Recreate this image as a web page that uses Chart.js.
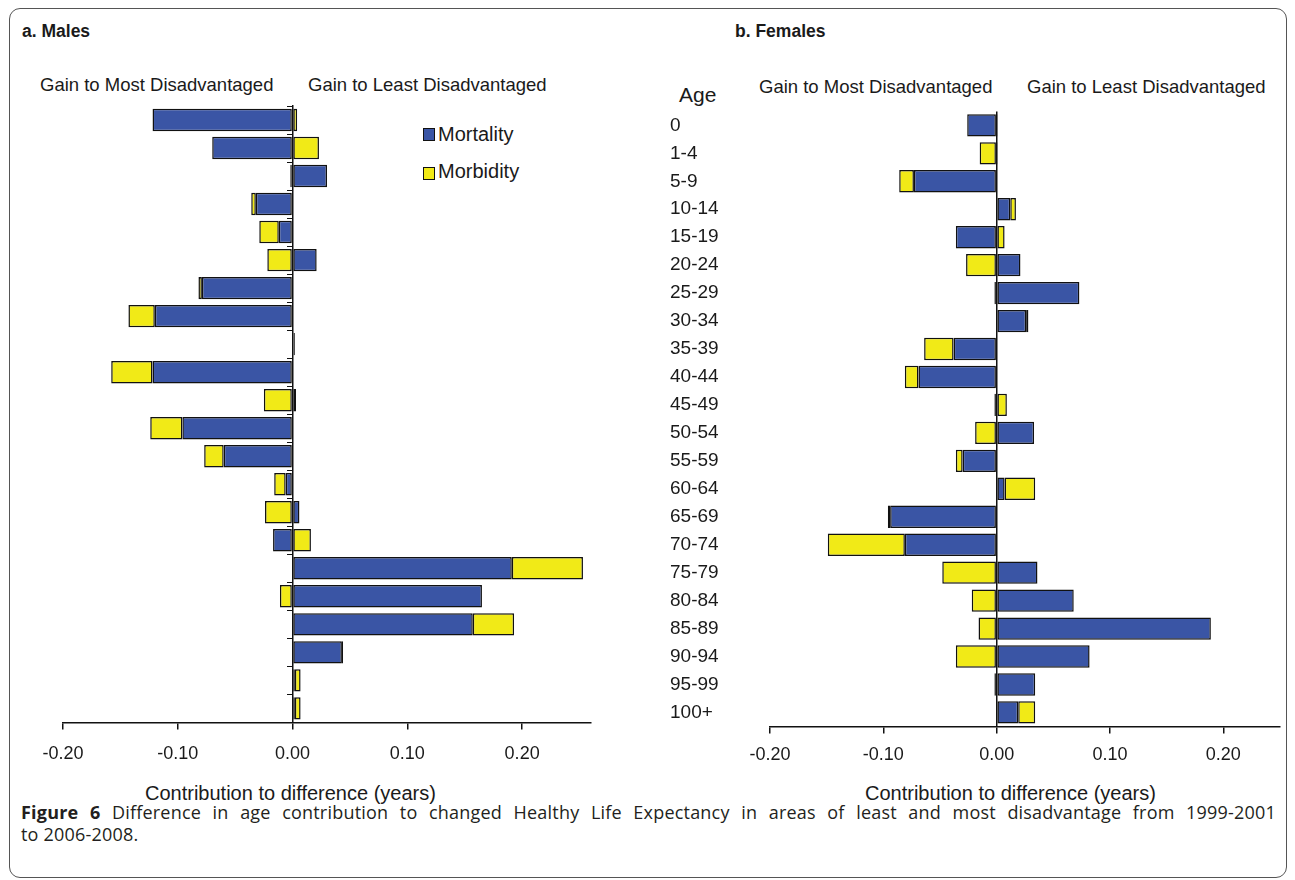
<!DOCTYPE html>
<html>
<head>
<meta charset="utf-8">
<script src="https://cdn.jsdelivr.net/npm/chart.js@4.4.0/dist/chart.umd.min.js"></script>
<style>
  body { margin: 0; background: #fff; font-family: "Liberation Sans", Arial, sans-serif; color: #1a1a1a; }
  #frame { position: absolute; left: 9px; top: 8px; width: 1278px; height: 870px; border: 1.5px solid #555; border-radius: 11px; box-sizing: border-box; }
  .t { position: absolute; white-space: nowrap; font-size: 18.5px; line-height: 22px; }
  .panel { font-weight: bold; font-size: 17.5px; }
  .key { position: absolute; width: 10px; height: 11px; border: 1.5px solid #111; }
  canvas { position: absolute; }
  #caption { position: absolute; left: 21px; top: 801px; width: 1255px; font-family: "Open Sans", sans-serif; font-size: 18px; line-height: 22px; font-weight: 400; letter-spacing: 0.2px; color: #231f20; }
  #caption b { font-weight: 700; }
  #caption div { text-align: justify; text-align-last: justify; }
  #caption div.last { text-align-last: left; }
</style>
</head>
<body>
<div id="frame"></div>

<div class="t panel" style="left:22px;top:20px;">a. Males</div>
<div class="t panel" style="left:735px;top:20px;">b. Females</div>

<div class="t" style="left:40px;top:74px;">Gain to Most Disadvantaged</div>
<div class="t" style="left:308px;top:74px;">Gain to Least Disadvantaged</div>
<div class="t" style="left:759px;top:76px;">Gain to Most Disadvantaged</div>
<div class="t" style="left:1027px;top:76px;">Gain to Least Disadvantaged</div>
<div class="t" style="left:679px;top:83px;font-size:21px;line-height:24px;">Age</div>

<div class="key" style="left:423px;top:128px;background:#3a55a5;"></div>
<div class="t" style="left:438px;top:123px;font-size:20px;">Mortality</div>
<div class="key" style="left:423px;top:167px;background:#f1ea17;"></div>
<div class="t" style="left:438px;top:160px;font-size:20px;">Morbidity</div>

<div class="t" style="left:145px;top:782px;font-size:20px;">Contribution to difference (years)</div>
<div class="t" style="left:865px;top:782px;font-size:20px;">Contribution to difference (years)</div>

<canvas id="males" width="590" height="684" style="left:20px;top:95px;"></canvas>
<canvas id="females" width="615" height="677" style="left:670px;top:100px;"></canvas>

<div id="caption">
  <div><b>Figure 6</b> Difference in age contribution to changed Healthy Life Expectancy in areas of least and most disadvantage from 1999-2001</div>
  <div class="last">to 2006-2008.</div>
</div>

<script>
const ageGroups = ['0', '1-4', '5-9', '10-14', '15-19', '20-24', '25-29', '30-34', '35-39', '40-44', '45-49',
  '50-54', '55-59', '60-64', '65-69', '70-74', '75-79', '80-84', '85-89', '90-94', '95-99', '100+'];

const maleMortality = [-0.122, -0.070, 0.030, -0.032, -0.012, 0.021, -0.079, -0.120, 0.001, -0.122, 0.003,
  -0.096, -0.060, -0.006, 0.006, -0.017, 0.191, 0.165, 0.157, 0.043, 0.002, 0.002];
const maleMorbidity = [0.004, 0.023, -0.002, -0.004, -0.017, -0.022, -0.003, -0.023, 0.001, -0.036, -0.025,
  -0.028, -0.017, -0.010, -0.024, 0.016, 0.062, -0.011, 0.036, 0.001, 0.005, 0.005];

const femaleMortality = [-0.026, 0.001, -0.073, 0.012, -0.036, 0.021, 0.073, 0.026, -0.038, -0.069, -0.002,
  0.033, -0.030, 0.007, -0.094, -0.081, 0.036, 0.068, 0.189, 0.082, 0.034, 0.019];
const femaleMorbidity = [0.001, -0.015, -0.013, 0.005, 0.007, -0.027, -0.002, 0.002, -0.026, -0.012, 0.009,
  -0.019, -0.006, 0.027, -0.002, -0.068, -0.048, -0.022, -0.016, -0.036, -0.002, 0.015];

const xTicks = [-0.2, -0.1, 0, 0.1, 0.2];

const BLUE = '#3a55a5';
const YELLOW = '#f1ea17';
const INK = '#111';
const FONT = '"Liberation Sans", Arial, sans-serif';

function makeDatasets(mort, morb) {
  return [
    {label: 'Mortality', data: mort, backgroundColor: BLUE},
    {label: 'Morbidity', data: morb, backgroundColor: YELLOW}
  ];
}

function xScale(max, zeroLine, pad) {
  return {
    stacked: true,
    min: -0.2,
    max: max,
    afterBuildTicks: s => { s.ticks = xTicks.map(v => ({value: v})); },
    border: {display: true, color: INK, width: 1.5},
    grid: {
      drawOnChartArea: zeroLine,
      color: c => (c.tick && Math.abs(c.tick.value) < 1e-9) ? INK : 'rgba(0,0,0,0)',
      lineWidth: 1.5,
      tickColor: INK,
      tickLength: 7
    },
    ticks: {
      padding: pad,
      color: '#1a1a1a',
      font: {family: FONT, size: 18},
      callback: v => Number(v).toFixed(2)
    }
  };
}

const common = {
  indexAxis: 'y',
  responsive: false,
  animation: false,
  plugins: {legend: {display: false}, tooltip: {enabled: false}},
  datasets: {
    bar: {categoryPercentage: 1, barPercentage: 0.8, borderColor: INK, borderWidth: 1.5, borderSkipped: false}
  }
};

new Chart(document.getElementById('males'), {
  type: 'bar',
  data: {labels: ageGroups, datasets: makeDatasets(maleMortality, maleMorbidity)},
  options: Object.assign({}, common, {
    layout: {padding: {left: 43, right: 19, top: 11, bottom: 0}},
    scales: {
      x: xScale(0.26, false, 14),
      y: {
        stacked: true,
        position: {x: 0},
        ticks: {display: false},
        border: {display: true, color: INK, width: 1.5},
        grid: {drawOnChartArea: false, color: 'rgba(0,0,0,0)', tickColor: INK, tickLength: 5}
      }
    }
  })
});

new Chart(document.getElementById('females'), {
  type: 'bar',
  data: {labels: ageGroups, datasets: makeDatasets(femaleMortality, femaleMorbidity)},
  options: Object.assign({}, common, {
    layout: {padding: {left: 0, right: 5, top: 11, bottom: 0}},
    scales: {
      x: xScale(0.25, true, 11),
      y: {
        stacked: true,
        grid: {display: false},
        border: {display: false},
        afterFit: s => { s.width = 100; },
        ticks: {crossAlign: 'far', padding: 0, color: '#1a1a1a', font: {family: FONT, size: 19}}
      }
    }
  })
});
</script>
</body>
</html>
